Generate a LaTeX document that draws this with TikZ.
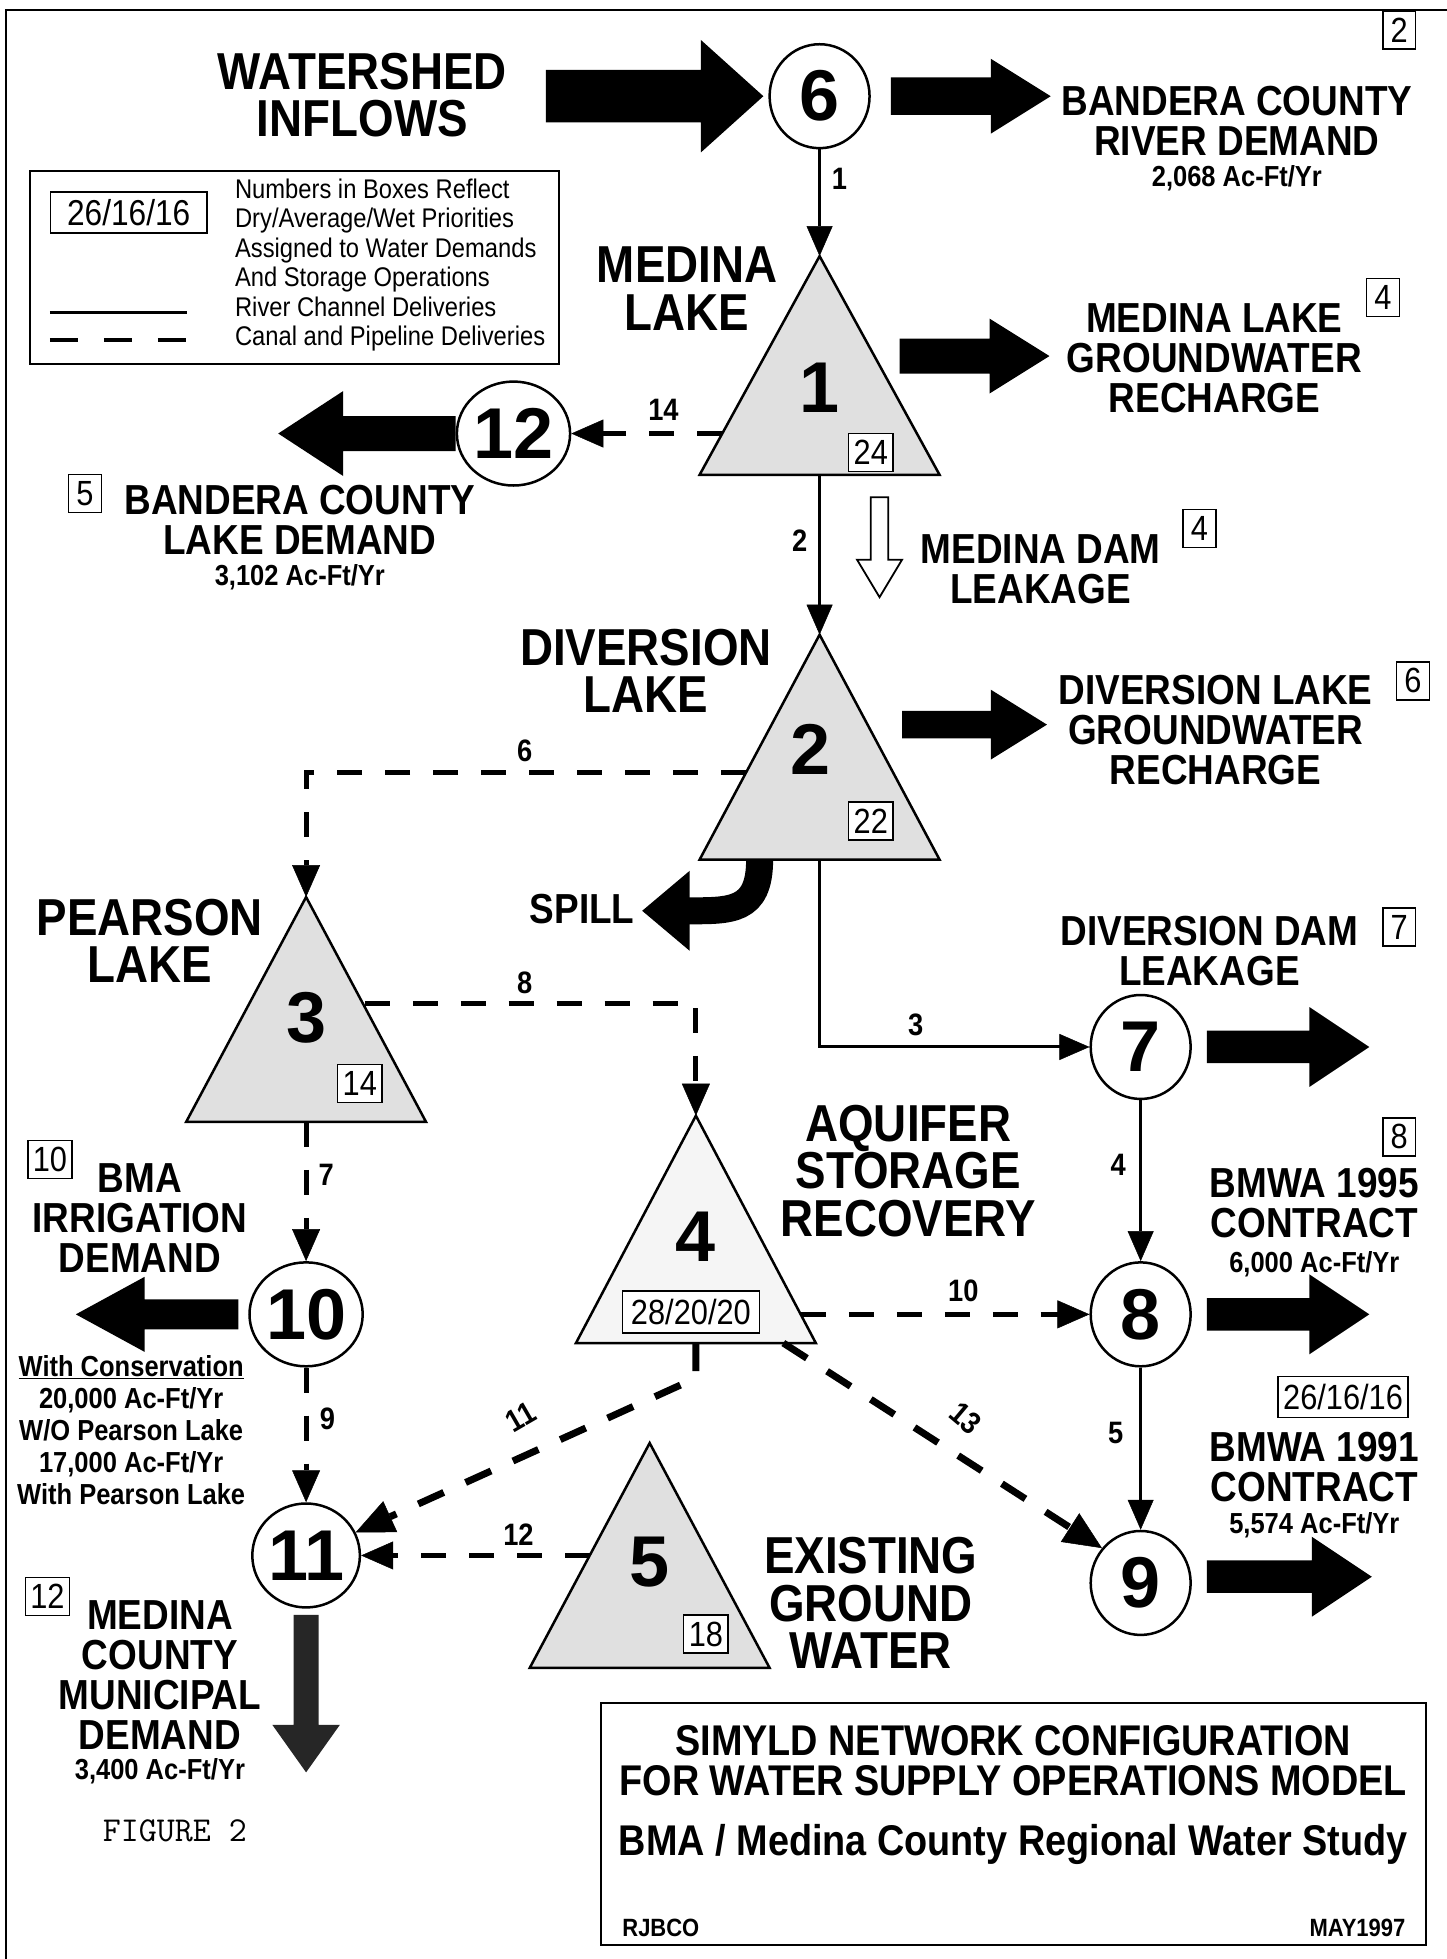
\documentclass[tikz,border=0pt]{standalone}
\usepackage{fontspec}
\setmainfont[FakeStretch=0.88]{Liberation Sans}
\newfontfamily\numfont{Liberation Sans}
\usetikzlibrary{arrows.meta,shapes.geometric,calc}
\newcommand\BArrow[7][fill=black]{%
  \path[#1, shift={#2}, rotate=#3] (0,-#5) -- ({#4-#6},-#5) -- ({#4-#6},-#7) -- (#4,0) -- ({#4-#6},#7) -- ({#4-#6},#5) -- (0,#5) -- cycle;}
\newcommand\Tri[5]{%
  \coordinate (#1a) at (#2,#3);
  \coordinate (#1l) at ({#2-96},#4);
  \coordinate (#1r) at ({#2+96},#4);
  \coordinate (#1b) at (#2,#4);
  \filldraw[tri, fill=#5] (#1a) -- (#1l) -- (#1r) -- cycle;}
\tikzset{
  big/.style={font=\bfseries\fontsize{52pt}{47.5pt}\selectfont, align=center, inner sep=0pt},
  med/.style={font=\bfseries\fontsize{42pt}{40pt}\selectfont, align=center, inner sep=0pt},
  sml/.style={font=\bfseries\fontsize{29pt}{32pt}\selectfont, align=center, inner sep=0pt},
  lab/.style={font=\bfseries\fontsize{31pt}{31pt}\selectfont, inner sep=0pt},
  leg/.style={font=\fontsize{27pt}{29.5pt}\selectfont, align=left, inner sep=0pt, anchor=north west},
  num/.style={font=\numfont\bfseries\fontsize{72pt}{72pt}\selectfont, inner sep=0pt},
  cnode/.style={ellipse, draw, line width=2.5pt, minimum width=100pt, minimum height=104pt, inner sep=0pt, num},
  pbox/.style={draw, line width=1.4pt, font=\fontsize{35pt}{35pt}\selectfont, inner xsep=5pt, inner ysep=3pt, minimum width=33pt, minimum height=38pt},
  tri/.style={draw, line width=2.5pt, line join=miter},
  riv/.style={line width=3pt, -{Triangle[length=30pt,width=26pt,line width=0.5pt]}},
  can/.style={line width=5pt, dash pattern=on 25pt off 23pt, -{Triangle[length=32pt,width=28pt,line width=0.5pt]}},
  cantwo/.style={line width=7pt, dash pattern=on 28pt off 24pt, -{Triangle[length=38pt,width=34pt,line width=0.5pt]}},
  frame/.style={draw, line width=2pt, inner sep=0pt},
  ttl/.style={font=\bfseries\fontsize{43pt}{40pt}\selectfont, align=center, inner sep=0pt},
}
\begin{document}
\begin{tikzpicture}[x=1.25pt, y=-1.25pt]
\fill[white] (0,0) rectangle (1158,1568);
\useasboundingbox (0,0) rectangle (1158,1568);
% page border
\draw[line width=2pt] (4,8) -- (1158,8);
\draw[line width=2pt] (5,8) -- (5,1568);

% legend
\node[frame, minimum width=529pt, minimum height=192.5pt] (legbox) at (235.5,214) {};
\node[pbox, minimum width=157pt, minimum height=41pt, font=\fontsize{36pt}{36pt}\selectfont] (legnum) at (103,170) {26/16/16};
\node[leg] (legtext) at (188,143) {Numbers in Boxes Reflect\\Dry/Average/Wet Priorities\\Assigned to Water Demands\\And Storage Operations\\River Channel Deliveries\\Canal and Pipeline Deliveries};
\coordinate (ls1) at (40,250); \coordinate (ls2) at (150,250);
\coordinate (ld1) at (40,272); \coordinate (ld2) at (150,272);
\draw[line width=3pt] (ls1) -- (ls2);
\draw[line width=4.5pt, dash pattern=on 28pt off 26pt] (ld1) -- (ld2);

% triangles
\Tri{T1}{656}{205}{380}{black!12}
\Tri{T2}{656}{508}{688}{black!12}
\Tri{T3}{245}{718}{898}{black!12}
\Tri{T4}{557}{893}{1075}{black!4}
\Tri{T5}{520}{1155}{1335}{black!12}
\node[num] (t1n) at (656,310) {1};
\node[num] (t2n) at (649,600) {2};
\node[num] (t3n) at (245,815) {3};
\node[num] (t4n) at (557,990) {4};
\node[num] (t5n) at (520,1250) {5};
\node[pbox, fill=white] (b24) at (697,362) {24};
\node[pbox, fill=white] (b22) at (697,657) {22};
\node[pbox, fill=white] (b14) at (288,867) {14};
\node[pbox, fill=white, minimum width=137pt, minimum height=42pt] (b28) at (553,1050) {28/20/20};
\node[pbox, fill=white] (b18) at (565,1308) {18};

% circles
\node[cnode] (n6) at (656,77) {6};
\node[cnode] (n12) at (411,347) {12};
\node[cnode] (n7) at (913,838) {7};
\node[cnode] (n8) at (913,1052) {8};
\node[cnode] (n9) at (913,1267) {9};
\node[cnode] (n10) at (245,1052) {10};
\node[cnode] (n11) at (245,1245) {11};

% priority boxes
\node[pbox] (p2) at (1120,24) {2};
\node[pbox] (p4a) at (1107,238) {4};
\node[pbox] (p4b) at (960,423) {4};
\node[pbox] (p6) at (1131,545) {6};
\node[pbox] (p7) at (1120,742) {7};
\node[pbox] (p8) at (1120,910) {8};
\node[pbox, minimum width=125pt, minimum height=41pt] (p26) at (1075,1118) {26/16/16};
\node[pbox] (p5) at (68,395) {5};
\node[pbox] (p10) at (40,928) {10};
\node[pbox] (p12) at (38,1278) {12};

% connectors
\coordinate (c14) at (578,347);
\coordinate (c6a) at (597,618);
\coordinate (c6b) at (245,618);
\coordinate (c8a) at (292,803);
\coordinate (c10) at (641,1052);
\coordinate (c13) at (627,1075);
\coordinate (c11) at (557,1103);
\coordinate (c12) at (472,1245);
\draw[riv] (n6) -- (T1a);
\draw[can] (c14) -- (n12);
\draw[riv] (T1b) -- (T2a);
\draw[can] (c6a) -- (c6b) -- (T3a);
\draw[riv] (T2b) |- (n7);
\draw[can] (c8a) -| (T4a);
\draw[can] (T3b) -- (n10);
\draw[riv] (n7) -- (n8);
\draw[riv] (n8) -- (n9);
\draw[can] (c10) -- (n8);
\draw[cantwo] (c13) -- (n9.138);
\draw[cantwo] (T4b) -- (c11) -- (n11.25);
\draw[can] (c12) -- (n11);
\draw[can] (n10) -- (n11);

% edge labels
\node[lab] (l1) at (672,143) {1};
\node[lab] (l14) at (531,328) {14};
\node[lab] (l2) at (640,433) {2};
\node[lab] (l6) at (420,601) {6};
\node[lab] (l3) at (733,820) {3};
\node[lab] (l8) at (420,787) {8};
\node[lab] (l4) at (895,932) {4};
\node[lab] (l10) at (771,1033) {10};
\node[lab] (l5) at (893,1147) {5};
\node[lab] (l7) at (261,940) {7};
\node[lab] (l9) at (262,1136) {9};
\node[lab, rotate=30] (l11) at (417,1134) {11};
\node[lab, rotate=-40] (l13) at (773,1135) {13};
\node[lab] (l12) at (415,1228) {12};

% block arrows
\BArrow{(437,77)}{0}{174}{21}{50}{45}
\BArrow{($(n6.east)+(16,0)$)}{0}{128}{15}{48}{30}
\BArrow{(720,285)}{0}{120}{14}{48}{30}
\BArrow{(n12.west)}{180}{142}{14}{52}{34}
\BArrow{(722,580)}{0}{116}{11}{45}{28}
\BArrow{($(n7.east)+(12,0)$)}{0}{130}{13}{48}{32}
\BArrow{($(n8.east)+(12,0)$)}{0}{130}{13}{48}{32}
\BArrow{($(n9.east)+(12,-5)$)}{0}{132}{13}{48}{32}
\BArrow{($(n10.west)+(-8,0)$)}{180}{130}{12}{55}{30}
\BArrow[fill=black!85]{($(n11.south)+(0,5)$)}{-90}{126}{10}{38}{27}
\BArrow[fill=white, draw=black, line width=1.8pt]{(704,398)}{-90}{80}{7}{30}{18}
% spill
\coordinate (sp0) at (608,688);
\coordinate (sp1) at (550,729);
\draw[line width=27pt] (sp0) .. controls (608,730) and (585,729) .. (sp1);
\fill (552,697) -- (514,729) -- (552,761) -- cycle;

% texts
\node[big] (tws) at (290,76) {WATERSHED\\INFLOWS};
\node[med] (tbr) at (990,97) {BANDERA COUNTY\\RIVER DEMAND};
\node[sml] (tbrq) at (990,143) {2,068 Ac-Ft/Yr};
\node[big] (tml) at (550,231) {MEDINA\\LAKE};
\node[med] (tmg) at (972,287) {MEDINA LAKE\\GROUNDWATER\\RECHARGE};
\node[med] (tbl) at (240,416) {BANDERA COUNTY\\LAKE DEMAND};
\node[sml] (tblq) at (240,462) {3,102 Ac-Ft/Yr};
\node[med] (tmd) at (833,456) {MEDINA DAM\\LEAKAGE};
\node[big] (tdl) at (517,537) {DIVERSION\\LAKE};
\node[med] (tdg) at (973,584) {DIVERSION LAKE\\GROUNDWATER\\RECHARGE};
\node[med] (tsp) at (466,728) {SPILL};
\node[med] (tdd) at (968,761) {DIVERSION DAM\\LEAKAGE};
\node[big] (tpl) at (120,753) {PEARSON\\LAKE};
\node[big] (taq) at (727,937) {AQUIFER\\STORAGE\\RECOVERY};
\node[med] (tbma) at (112,975) {BMA\\IRRIGATION\\DEMAND};
\node[med] (tb95) at (1052,963) {BMWA 1995\\CONTRACT};
\node[sml] (tb95q) at (1052,1012) {6,000 Ac-Ft/Yr};
\node[med] (tb91) at (1052,1174) {BMWA 1991\\CONTRACT};
\node[sml] (tb91q) at (1052,1221) {5,574 Ac-Ft/Yr};
\node[big] (tex) at (697,1283) {EXISTING\\GROUND\\WATER};
\node[sml] (tcons) at (105,1145) {\underline{With Conservation}\\20,000 Ac-Ft/Yr\\W/O Pearson Lake\\17,000 Ac-Ft/Yr\\With Pearson Lake};
\node[med] (tmc) at (128,1341) {MEDINA\\COUNTY\\MUNICIPAL\\DEMAND};
\node[sml] (tmcq) at (128,1418) {3,400 Ac-Ft/Yr};
\node[font=\ttfamily\fontsize{35pt}{35pt}\selectfont, inner sep=0pt] (tfig) at (140,1465) {FIGURE 2};

% title block
\node[frame, minimum width=825pt, minimum height=242.5pt] (tbox) at (811,1460) {};
\node[ttl] (tt1) at (811,1409) {SIMYLD NETWORK CONFIGURATION\\FOR WATER SUPPLY OPERATIONS MODEL};
\node[ttl] (tt2) at (811,1476) {BMA / Medina County Regional Water Study};
\node[font=\bfseries\fontsize{25pt}{25pt}\selectfont, inner sep=0pt, anchor=west] (tt3) at (498,1543) {RJBCO};
\node[font=\bfseries\fontsize{25pt}{25pt}\selectfont, inner sep=0pt, anchor=east] (tt4) at (1125,1543) {MAY1997};
\end{tikzpicture}
\end{document}
